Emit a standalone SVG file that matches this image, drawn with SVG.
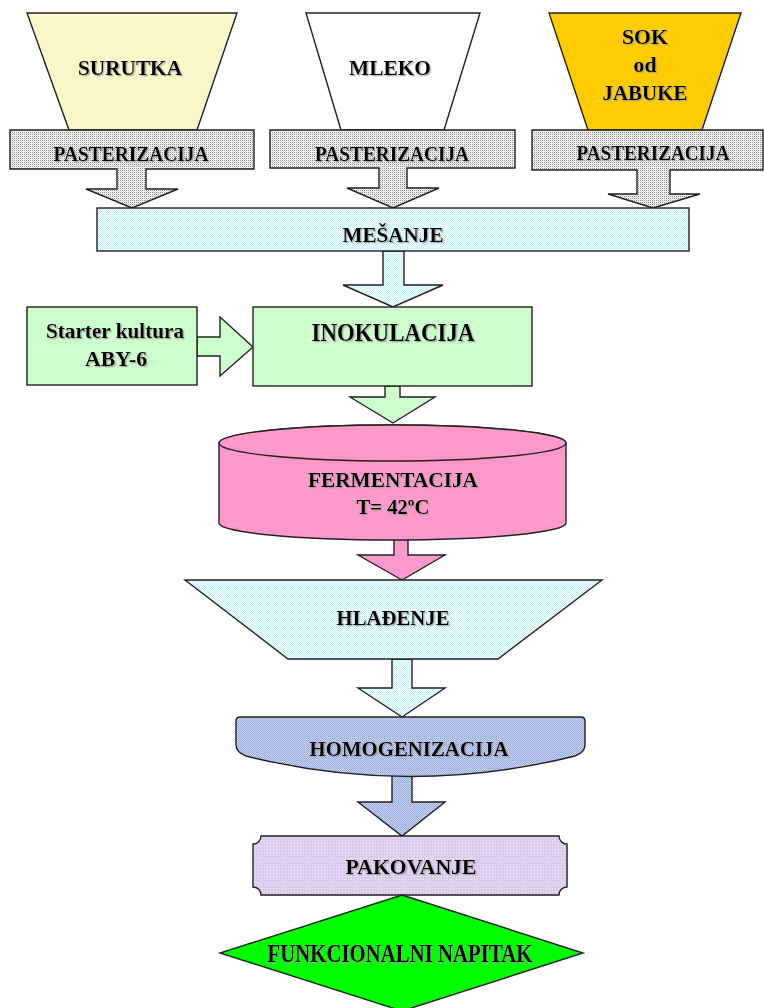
<svg xmlns="http://www.w3.org/2000/svg" width="764" height="1008" viewBox="0 0 764 1008">
<style>
text{font-family:"Liberation Serif","Times New Roman",serif;font-weight:bold;fill:#000;text-anchor:middle;filter:url(#sh)}
.s{stroke:#222;stroke-width:1.4;stroke-linejoin:miter}
.gray{fill:url(#pGray)}
.cyan{fill:url(#pCyan)}
.green{fill:#CCFFCC}
.pink{fill:#FF99CC}
.blue{fill:url(#pBlue)}
.lav{fill:url(#pLav)}
</style>
<defs>
<filter id="sh" x="-10%" y="-30%" width="130%" height="170%">
<feDropShadow dx="1.3" dy="1.3" stdDeviation="0.5" flood-color="#999" flood-opacity="0.8"/>
</filter>
<pattern id="pGray" width="2" height="2" patternUnits="userSpaceOnUse">
<rect width="2" height="2" fill="#f7f7f7"/>
<rect width="1" height="1" fill="#8f8f8f"/>
<rect x="1" y="1" width="1" height="1" fill="#e2e2e2"/>
</pattern>
<pattern id="pCyan" width="2" height="2" patternUnits="userSpaceOnUse">
<rect width="2" height="2" fill="#F2FFFF"/>
<rect width="1" height="1" fill="#BFEFF2"/>
<rect x="1" y="1" width="1" height="1" fill="#CDF5F7"/>
</pattern>
<pattern id="pBlue" width="2" height="2" patternUnits="userSpaceOnUse">
<rect width="2" height="2" fill="#C9D5F2"/>
<rect width="1" height="1" fill="#8EA4DB"/>
<rect x="1" y="1" width="1" height="1" fill="#9FB2E2"/>
</pattern>
<pattern id="pLav" width="3" height="3" patternUnits="userSpaceOnUse">
<rect width="3" height="3" fill="#DCCDF0"/>
<rect width="1" height="1" fill="#F4EEFA"/>
</pattern>
</defs>

<g id="connectors">
<polygon class="s cyan" points="383,251 404,251 404,285 443,285 393,307 343,285 383,285"/>
<polygon class="s green" points="197,337 220,337 220,317 253,347 220,376 220,356 197,356"/>
<polygon class="s green" points="385,386 400,386 400,397 435,397 393,423 350,397 385,397"/>
<polygon class="s pink" points="394,536 408,536 408,555 445,555 402,580 358,555 394,555"/>
<polygon class="s cyan" points="392,659 412,659 412,688 445,688 402,717 358,688 392,688"/>
<polygon class="s blue" points="392,772 412,772 412,802 445,802 402,836 358,802 392,802"/>
</g>

<g id="surutka">
<polygon class="s" fill="#FAF7CA" points="27,13 237,13 197,130 69,130"/>
<text x="130" y="75" font-size="21" textLength="104" lengthAdjust="spacingAndGlyphs">SURUTKA</text>
</g>
<g id="mleko">
<polygon class="s" fill="#ffffff" points="306,13 480,13 444,130 341,130"/>
<text x="390" y="75" font-size="21" textLength="82" lengthAdjust="spacingAndGlyphs">MLEKO</text>
</g>
<g id="sok">
<polygon class="s" fill="#FFCC00" points="549,13 741,13 702,130 588,130"/>
<text x="645" y="44" font-size="21" textLength="46" lengthAdjust="spacingAndGlyphs">SOK</text>
<text x="645" y="72" font-size="21" textLength="23" lengthAdjust="spacingAndGlyphs">od</text>
<text x="645" y="100" font-size="21" textLength="85" lengthAdjust="spacingAndGlyphs">JABUKE</text>
</g>

<g id="pasterizacija1">
<polygon class="s gray" points="10,130 254,130 254,169 146,169 146,189 178,189 132,208 86,189 117,189 117,169 10,169"/>
<text x="131" y="161" font-size="20" textLength="155" lengthAdjust="spacingAndGlyphs">PASTERIZACIJA</text>
</g>
<g id="pasterizacija2">
<polygon class="s gray" points="270,130 515,130 515,168 407,168 407,188 439,188 393,208 347,188 379,188 379,168 270,168"/>
<text x="392" y="161" font-size="20" textLength="154" lengthAdjust="spacingAndGlyphs">PASTERIZACIJA</text>
</g>
<g id="pasterizacija3">
<polygon class="s gray" points="532,130 763,130 763,170 670,170 670,194 700,194 653,208 608,194 637,194 637,170 532,170"/>
<text x="653" y="160" font-size="20" textLength="153" lengthAdjust="spacingAndGlyphs">PASTERIZACIJA</text>
</g>

<g id="mesanje">
<rect class="s cyan" x="97" y="208" width="592" height="43"/>
<text x="393" y="242" font-size="20" textLength="101" lengthAdjust="spacingAndGlyphs">MEŠANJE</text>
</g>

<g id="starter">
<rect class="s green" x="27" y="307" width="170" height="78"/>
<text x="115" y="338" font-size="21" textLength="138" lengthAdjust="spacingAndGlyphs">Starter kultura</text>
<text x="116" y="366" font-size="21" textLength="62" lengthAdjust="spacingAndGlyphs">ABY-6</text>
</g>

<g id="inokulacija">
<rect class="s green" x="253" y="307" width="279" height="79"/>
<text x="393" y="341" font-size="26" textLength="163" lengthAdjust="spacingAndGlyphs">INOKULACIJA</text>
</g>

<g id="fermentacija">
<path class="s pink" d="M219,443 L219,523 A173.5,17 0 0 0 566,523 L566,443 A173.5,18 0 0 0 219,443 Z"/>
<ellipse class="s pink" cx="392.5" cy="443" rx="173.5" ry="18"/>
<text x="393" y="487" font-size="22" textLength="170" lengthAdjust="spacingAndGlyphs">FERMENTACIJA</text>
<text x="393" y="514" font-size="21" textLength="73" lengthAdjust="spacingAndGlyphs">T= 42ºC</text>
</g>

<g id="hladjenje">
<polygon class="s cyan" points="185,580 602,580 498,659 288,659"/>
<text x="393" y="625" font-size="21" textLength="113" lengthAdjust="spacingAndGlyphs">HLAĐENJE</text>
</g>

<g id="homogenizacija">
<path class="s blue" d="M236,721 Q236,717 240,717 L581,717 Q585,717 585,721 L585,745 Q585,752 575,756 Q410,797 246,756 Q236,752 236,745 Z"/>
<text x="409" y="756" font-size="21" textLength="199" lengthAdjust="spacingAndGlyphs">HOMOGENIZACIJA</text>
</g>

<g id="pakovanje">
<path class="s lav" d="M261,836 L559,836 A8,8 0 0 0 567,844 L567,887 A8,8 0 0 0 559,895 L261,895 A8,8 0 0 0 253,887 L253,844 A8,8 0 0 0 261,836 Z"/>
<text x="411" y="874" font-size="21" textLength="131" lengthAdjust="spacingAndGlyphs">PAKOVANJE</text>
</g>

<g id="funkcionalni">
<polygon class="s" fill="#00FF00" points="402,895 583,953 402,1011 220,953"/>
<text x="400" y="962" font-size="25" textLength="265" lengthAdjust="spacingAndGlyphs">FUNKCIONALNI NAPITAK</text>
</g>
</svg>
